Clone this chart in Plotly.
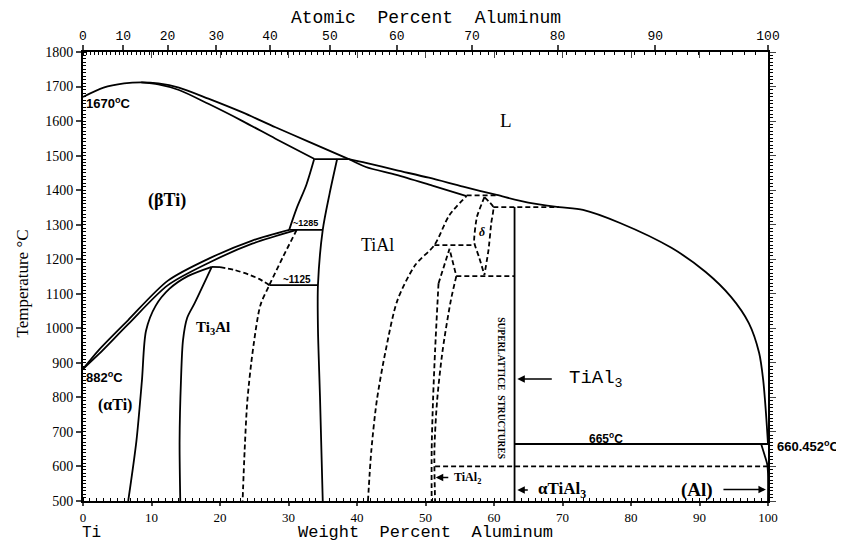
import plotly.graph_objects as go

# ---------------- data (weight % Al, temperature degC) ----------------
liq_left_wt = [0, 3, 6, 8.5, 11, 14, 18.3, 23.3, 28.1, 33.0, 38.8]
liq_left_T = [1670, 1697, 1709, 1712, 1709, 1697, 1665, 1625, 1582, 1540, 1490]
sol_beta_wt = [8.5, 11, 14, 18.3, 23.3, 28.1, 33.8]
sol_beta_T = [1712, 1706, 1690, 1650, 1600, 1549, 1490]
peri1490_wt = [33.8, 38.8]
peri1490_T = [1490, 1490]

liq_right_wt = [38.8, 41.3, 45.7, 50.5, 55.5, 60.4, 65.0, 69.5, 73.0, 78.4, 85.9, 90.9, 94.6, 97.2, 98.7, 99.3, 99.7, 100]
liq_right_T = [1490, 1479, 1458, 1436, 1410, 1386, 1364, 1351, 1343, 1305, 1233, 1163, 1091, 1015, 929, 850, 755, 665]
tial_sol_wt = [38.8, 41.3, 45.75, 51.0, 56.0]
tial_sol_T = [1490, 1467, 1444, 1413, 1383]

alpha_left_wt = [33.75, 32.6, 31.2, 30.1]
alpha_left_T = [1490, 1415, 1348, 1285]
tial_left_wt = [37.1, 36.0, 35.0, 34.3, 34.3, 34.6, 35.0]
tial_left_T = [1490, 1390, 1285, 1125, 1000, 800, 500]

beta_up_wt = [0, 2.3, 6.6, 12.4, 18.6, 24.7, 30.1]
beta_up_T = [882, 937, 1024, 1138, 1204, 1254, 1285]
beta_lo_wt = [0, 2.3, 6.6, 12.4, 18.6, 24.7, 31.2]
beta_lo_T = [882, 925, 1012, 1125, 1192, 1245, 1285]

a_a2_wt = [6.6, 7.8, 8.6, 9.2, 10.6, 12.6, 15.3, 18.8]
a_a2_T = [500, 674, 848, 993, 1065, 1114, 1151, 1178]
a2_left_wt = [14.2, 14.1, 14.3, 14.6, 15.2, 16.3, 18.8]
a2_left_T = [500, 674, 848, 966, 1030, 1073, 1178]
a2_top_wt = [18.8, 20.0]
a2_top_T = [1178, 1177]
a2_dome_wt = [20.0, 22.1, 24.4, 25.7, 27.2]
a2_dome_T = [1177, 1169, 1154, 1143, 1125]
a2_right_wt = [31.2, 29.2, 27.2, 25.9, 24.8, 24.0, 23.6, 23.3]
a2_right_T = [1285, 1207, 1125, 1067, 937, 792, 648, 500]

line1285_wt = [30.1, 35.0]
line1285_T = [1285, 1285]
line1125_wt = [27.2, 34.3]
line1125_T = [1125, 1125]

tial_right_wt = [41.6, 42.1, 42.9, 44.2, 45.9, 48.5, 51.3, 53.5, 56.0]
tial_right_T = [500, 648, 792, 937, 1081, 1183, 1241, 1328, 1383]
peri1383_wt = [56.0, 60.4]
peri1383_T = [1385, 1385]
line1240_wt = [51.3, 57.1]
line1240_T = [1241, 1241]

delta_left_wt = [58.6, 57.5, 57.1, 57.8, 58.6]
delta_left_T = [1380, 1322, 1250, 1207, 1155]
delta_right_wt = [58.6, 59.9, 59.6, 59.2, 58.6]
delta_right_T = [1380, 1351, 1305, 1227, 1155]
line1350_wt = [59.9, 69.5]
line1350_T = [1351, 1351]

tial2_peak_wt = [51.9, 53.5, 54.5]
tial2_peak_T = [1130, 1230, 1151]
tial2_left_wt = [51.9, 51.4, 51.1, 50.9, 50.9]
tial2_left_T = [1130, 936, 792, 647, 500]
tial2_right_wt = [54.5, 53.7, 52.5, 51.7, 51.3, 51.4]
tial2_right_T = [1151, 1081, 936, 792, 647, 500]
line1150_wt = [54.5, 63.0]
line1150_T = [1151, 1151]

tial3_wt = [63.0, 63.0]
tial3_T = [1351, 500]
line665_wt = [63.0, 100]
line665_T = [665, 665]
line600_wt = [51.4, 100]
line600_T = [600, 600]
al_solvus_wt = [99.0, 99.5, 99.9, 100, 100]
al_solvus_T = [665, 633, 605, 580, 500]

at_ticks = [0, 10, 20, 30, 40, 50, 60, 70, 80, 90, 100]
wt_ticks = [0, 10, 20, 30, 40, 50, 60, 70, 80, 90, 100]
T_ticks = [500, 600, 700, 800, 900, 1000, 1100, 1200, 1300, 1400, 1500, 1600, 1700, 1800]

M_AL, M_TI = 26.98, 47.87


def at_to_wt(a):
    return 100.0 * a * M_AL / (a * M_AL + (100 - a) * M_TI)


fig = go.Figure()


def add(xs, ys, dash="solid", smooth=True, width=1.8, smoothing=0.8):
    fig.add_trace(go.Scatter(
        x=xs, y=ys, mode="lines", showlegend=False, hoverinfo="skip",
        line=dict(color="black", width=width, dash=dash,
                  shape="spline" if smooth else "linear", smoothing=smoothing)))


D = "5px,3px"
add(liq_left_wt, liq_left_T)
add(sol_beta_wt, sol_beta_T)
add(peri1490_wt, peri1490_T, smooth=False)
add(liq_right_wt, liq_right_T)
add(tial_sol_wt, tial_sol_T)
add(alpha_left_wt, alpha_left_T)
add(tial_left_wt, tial_left_T)
add(beta_up_wt, beta_up_T)
add(beta_lo_wt, beta_lo_T)
add(a_a2_wt, a_a2_T)
add(a2_left_wt, a2_left_T)
add(a2_top_wt, a2_top_T, smooth=False)
add(a2_dome_wt, a2_dome_T, dash=D)
add(a2_right_wt, a2_right_T, dash=D)
add(line1285_wt, line1285_T, smooth=False)
add(line1125_wt, line1125_T, smooth=False)
add(tial_right_wt, tial_right_T, dash=D)
add(peri1383_wt, peri1383_T, dash=D, smooth=False)
add(line1240_wt, line1240_T, dash=D, smooth=False)
add(delta_left_wt, delta_left_T, dash=D, smoothing=0.5)
add(delta_right_wt, delta_right_T, dash=D, smoothing=0.5)
add(line1350_wt, line1350_T, dash=D, smooth=False)
add(tial2_peak_wt, tial2_peak_T, dash=D, smooth=False)
add(tial2_left_wt, tial2_left_T, dash=D)
add(tial2_right_wt, tial2_right_T, dash=D)
add(line1150_wt, line1150_T, dash=D, smooth=False)
add(tial3_wt, tial3_T, smooth=False)
add(line665_wt, line665_T, smooth=False)
add(line600_wt, line600_T, dash=D, smooth=False)
add(al_solvus_wt, al_solvus_T)

# invisible traces to activate the extra axes
fig.add_trace(go.Scatter(x=[0, 100], y=[500, 1800], xaxis="x2", yaxis="y", mode="markers",
                         marker=dict(opacity=0), showlegend=False, hoverinfo="skip"))
fig.add_trace(go.Scatter(x=[0, 100], y=[500, 1800], xaxis="x3", yaxis="y2", mode="markers",
                         marker=dict(opacity=0), showlegend=False, hoverinfo="skip"))

tickfont = dict(family="Liberation Serif", size=14, color="black")
fig.update_layout(
    width=836, height=535,
    margin=dict(l=75, r=76, t=44, b=42),
    paper_bgcolor="white", plot_bgcolor="white",
    xaxis=dict(range=[0, 100], tickvals=wt_ticks, ticks="outside", ticklen=3, tickwidth=1.5,
               showline=True, linewidth=2, linecolor="black", showgrid=False, zeroline=False,
               tickfont=dict(family="Liberation Serif", size=13, color="black"), automargin=False,
               minor=dict(dtick=1, ticks="inside", ticklen=3, tickcolor="black", tickwidth=1)),
    xaxis2=dict(range=[0, 100], overlaying="x", side="top", tickmode="array",
                tickvals=[at_to_wt(a) for a in at_ticks], ticktext=[str(a) for a in at_ticks],
                ticks="outside", ticklen=5, tickwidth=1.5, showline=True, linewidth=2,
                linecolor="black", showgrid=False, zeroline=False, automargin=False,
                tickfont=dict(family="Liberation Mono", size=13, color="black"),
                minor=dict(tickmode="array", tickvals=[at_to_wt(a) for a in range(0, 101)],
                           ticks="inside", ticklen=3, tickcolor="black", tickwidth=1)),
    xaxis3=dict(range=[0, 100], overlaying="x", side="top", tickvals=wt_ticks, ticks="inside",
                ticklen=6, tickwidth=1.2, showticklabels=False, showline=False, showgrid=False,
                zeroline=False, automargin=False),
    yaxis=dict(range=[500, 1800], tickvals=T_ticks, ticks="outside", ticklen=5, tickwidth=1.5,
               showline=True, linewidth=2, linecolor="black", showgrid=False, zeroline=False,
               tickfont=tickfont, automargin=False,
               minor=dict(dtick=10, ticks="inside", ticklen=3, tickcolor="black", tickwidth=1)),
    yaxis2=dict(range=[500, 1800], overlaying="y", side="right", tickvals=T_ticks,
                ticks="outside", ticklen=6, tickwidth=1.2, showticklabels=False, automargin=False,
                showline=True, linewidth=2, linecolor="black", showgrid=False, zeroline=False,
                minor=dict(dtick=10, ticks="outside", ticklen=3, tickcolor="black", tickwidth=1)),
)

ann = []


def text(x, y, s, size=14, family="Liberation Serif", xanchor="center", yanchor="middle",
         angle=0, xref="x", yref="y", xshift=0, yshift=0):
    ann.append(dict(x=x, y=y, text=s, showarrow=False, xref=xref, yref=yref, xanchor=xanchor,
                    yanchor=yanchor, textangle=angle, xshift=xshift, yshift=yshift,
                    font=dict(family=family, size=size, color="black")))


def arrow(x, y, ax):
    ann.append(dict(x=x, y=y, ax=ax, ay=0, text="", showarrow=True, arrowhead=2, arrowsize=1,
                    arrowwidth=1.5, arrowcolor="black", xref="x", yref="y"))


SANS = "Liberation Sans"
text(0.5, 1.0, "Atomic  Percent  Aluminum", size=18, family="Liberation Mono",
     xref="paper", yref="paper", yshift=34)
text(0.5, 0.0, "Weight  Percent  Aluminum", size=17, family="Liberation Mono",
     xref="paper", yref="paper", yshift=-31)
text(0.0, 0.5, "Temperature °C", size=17, angle=-90, xref="paper", yref="paper",
     xshift=-61, yshift=-7)
text(1.3, 500, "Ti", size=16, family="Liberation Mono", yshift=-32)
text(100.8, 500, "Al", size=16, family="Liberation Mono", yshift=-34)

text(0.2, 1652, "<b>1670<sup>o</sup>C</b>", size=13, family=SANS, xanchor="left")
text(0.2, 858, "<b>882<sup>o</sup>C</b>", size=13, family=SANS, xanchor="left")
text(76.4, 683, "<b>665<sup>o</sup>C</b>", size=12, family=SANS)
text(100, 660, "<b>660.452<sup>o</sup>C</b>", size=13, family=SANS, xanchor="left", xshift=7)
text(61.8, 1603, "L", size=19)
text(12.2, 1371, "<b>(βTi)</b>", size=18)
text(43.0, 1241, "TiAl", size=18)
text(19.0, 1000, "<b>Ti<sub>3</sub>Al</b>", size=15)
text(4.6, 778, "<b>(αTi)</b>", size=16)
text(32.5, 1305, "<b>~1285</b>", size=9, family=SANS)
text(31.3, 1142, "<b>~1125</b>", size=10, family=SANS)
text(58.2, 1279, "<i><b>δ</b></i>", size=12)
text(61.0, 827, "<b>SUPERLATTICE  STRUCTURES</b>", size=9.5, family="Liberation Serif", angle=90)
text(70.7, 853, "TiAl<sub>3</sub>", size=19, family="Liberation Mono", xanchor="left")
arrow(63.4, 853, 36)
text(53.8, 568, "<b>TiAl<sub>2</sub></b>", size=12, xanchor="left")
arrow(51.5, 568, 14)
text(66.2, 532, "<b>αTiAl<sub>3</sub></b>", size=17, xanchor="left")
arrow(63.4, 532, 12)
text(89.6, 533, "<b>(Al)</b>", size=19, family="Liberation Serif")
arrow(99.7, 533, -44)

fig.update_layout(annotations=ann)
fig.write_html("out.html")
